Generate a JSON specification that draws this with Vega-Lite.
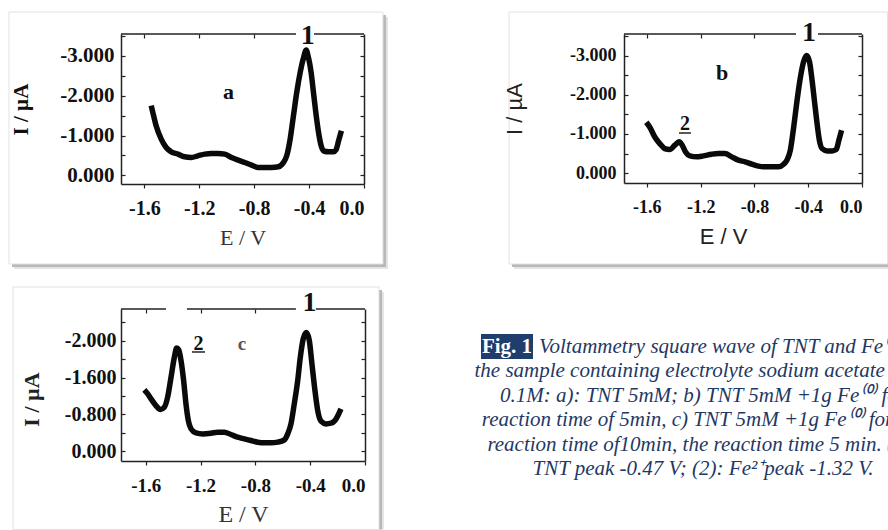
{
  "$schema": "https://vega.github.io/schema/vega-lite/v6.json",
  "background": "white",
  "padding": {"left": 8, "top": 11, "right": 0, "bottom": 0},
  "autosize": {"type": "pad"},
  "spacing": 17,
  "config": {
    "view": {"stroke": null},
    "axis": {"labelOverlap": false, "grid": false, "domainColor": "#222", "domainWidth": 1.5, "tickColor": "#222", "tickWidth": 1.2},
    "font": "Liberation Serif"
  },
  "vconcat": [
    {"hconcat": [
    {
      "width": 243, "height": 150,
      "resolve": {"axis": {"x": "independent", "y": "independent"}},
      "layer": [
        {"data": {"values": [{}]}, "mark": {"type": "rect", "fill": "#e3e3e3"},
         "encoding": {"x": {"datum": -2.549, "type": "quantitative", "scale": {"domain": [-1.77, 0], "nice": false, "zero": false}, "axis": null}, "x2": {"datum": 0.175},
                      "y": {"datum": -3.98, "type": "quantitative", "scale": {"domain": [-3.553, 0.219], "reverse": true, "nice": false, "zero": false}, "axis": null}, "y2": {"datum": 2.356}}},
        {"data": {"values": [{}]}, "mark": {"type": "rect", "fill": "#b8b8b8"},
         "encoding": {"x": {"datum": -2.564, "type": "quantitative", "scale": {"domain": [-1.77, 0], "nice": false, "zero": false}, "axis": null}, "x2": {"datum": 0.16},
                      "y": {"datum": -4.031, "type": "quantitative", "scale": {"domain": [-3.553, 0.219], "reverse": true, "nice": false, "zero": false}, "axis": null}, "y2": {"datum": 2.306}}},
        {"data": {"values": [{}]}, "mark": {"type": "rect", "fill": "#ffffff", "stroke": "#e2e2e2", "strokeWidth": 1},
         "encoding": {"x": {"datum": -2.586, "type": "quantitative", "scale": {"domain": [-1.77, 0], "nice": false, "zero": false}, "axis": null}, "x2": {"datum": 0.138},
                      "y": {"datum": -4.106, "type": "quantitative", "scale": {"domain": [-3.553, 0.219], "reverse": true, "nice": false, "zero": false}, "axis": null}, "y2": {"datum": 2.23}}},
        {"data": {"values": [{}]}, "mark": {"type": "rule", "color": "#222", "strokeWidth": 1.5},
         "encoding": {"x": {"datum": -1.77, "type": "quantitative", "scale": {"domain": [-1.77, 0], "nice": false, "zero": false},
                            "axis": {"orient": "top", "values": [-1.6, -1.2, -0.8], "labels": false, "domain": false, "tickSize": -4, "title": null, "zindex": 1}},
                      "x2": {"datum": -0.495},
                      "y": {"datum": -3.553, "type": "quantitative", "scale": {"domain": [-3.553, 0.219], "reverse": true, "nice": false, "zero": false},
                            "axis": {"orient": "right", "values": [0, -0.5, -1, -1.5, -2, -2.5, -3, -3.5], "labels": false, "tickSize": -4, "title": null, "zindex": 1}}}},
        {"data": {"values": [{}]}, "mark": {"type": "rule", "color": "#222", "strokeWidth": 1.5},
         "encoding": {"x": {"datum": -0.364, "type": "quantitative", "scale": {"domain": [-1.77, 0], "nice": false, "zero": false}, "axis": null}, "x2": {"datum": 0},
                      "y": {"datum": -3.553, "type": "quantitative", "scale": {"domain": [-3.553, 0.219], "reverse": true, "nice": false, "zero": false}, "axis": null}}},
        {"data": {"values": [
          {"E": -1.550, "I": -1.75}, {"E": -1.538, "I": -1.578}, {"E": -1.514, "I": -1.243}, {"E": -1.477, "I": -0.908}, {"E": -1.441, "I": -0.699},
          {"E": -1.404, "I": -0.590}, {"E": -1.355, "I": -0.532}, {"E": -1.307, "I": -0.465}, {"E": -1.258, "I": -0.448}, {"E": -1.209, "I": -0.490},
          {"E": -1.160, "I": -0.532}, {"E": -1.111, "I": -0.548}, {"E": -1.063, "I": -0.548}, {"E": -1.014, "I": -0.532}, {"E": -0.965, "I": -0.448},
          {"E": -0.916, "I": -0.381}, {"E": -0.868, "I": -0.322}, {"E": -0.819, "I": -0.255}, {"E": -0.770, "I": -0.197}, {"E": -0.721, "I": -0.197},
          {"E": -0.673, "I": -0.197}, {"E": -0.624, "I": -0.213}, {"E": -0.587, "I": -0.322}, {"E": -0.563, "I": -0.490}, {"E": -0.538, "I": -0.908},
          {"E": -0.514, "I": -1.495}, {"E": -0.490, "I": -2.081}, {"E": -0.465, "I": -2.583}, {"E": -0.441, "I": -2.95}, {"E": -0.421, "I": -3.15},
          {"E": -0.404, "I": -2.95}, {"E": -0.385, "I": -2.583}, {"E": -0.368, "I": -2.081}, {"E": -0.351, "I": -1.578}, {"E": -0.331, "I": -1.076},
          {"E": -0.312, "I": -0.741}, {"E": -0.295, "I": -0.615}, {"E": -0.258, "I": -0.590}, {"E": -0.222, "I": -0.590}, {"E": -0.204, "I": -0.640},
          {"E": -0.185, "I": -0.866}, {"E": -0.165, "I": -1.118}
        ]},
         "mark": {"type": "line", "color": "#0a0a0a", "strokeWidth": 5.5, "interpolate": "monotone"},
         "encoding": {
           "x": {"field": "E", "type": "quantitative", "scale": {"domain": [-1.77, 0], "nice": false, "zero": false},
                 "axis": {"orient": "bottom", "zindex": 1, "values": [-1.6, -1.2, -0.8, -0.4, 0], "labelExpr": "(datum.value < 0 ? '-' : '') + format(abs(datum.value), '.1f')",
                          "labelFlush": true, "labelFont": "Liberation Serif", "labelFontWeight": "bold", "labelFontSize": 20, "labelColor": "#111", "labelPadding": 10, "tickSize": 4,
                          "title": "E / V", "titleFont": "Liberation Serif", "titleFontWeight": "normal", "titleFontSize": 22, "titleColor": "#333", "titlePadding": 9}},
           "y": {"field": "I", "type": "quantitative", "scale": {"domain": [-3.553, 0.219], "reverse": true, "nice": false, "zero": false},
                 "axis": {"orient": "left", "zindex": 1, "values": [0, -0.5, -1, -1.5, -2, -2.5, -3, -3.5],
                          "labelExpr": "datum.value % 1 != 0 ? '' : (datum.value < 0 ? '-' : '') + format(abs(datum.value), '.3f')",
                          "labelFont": "Liberation Serif", "labelFontWeight": "bold", "labelFontSize": 21, "labelColor": "#111", "labelPadding": 11, "tickSize": -4,
                          "title": "I / µA", "titleFont": "Liberation Serif", "titleFontWeight": "bold", "titleFontSize": 21, "titleColor": "#111", "titlePadding": 28}}
         }},
        {"data": {"values": [{"t": "a"}]}, "mark": {"type": "text", "font": "Liberation Serif", "fontWeight": "bold", "fontSize": 22, "color": "#111", "align": "center", "baseline": "middle"},
         "encoding": {"x": {"datum": -0.987, "type": "quantitative", "scale": {"domain": [-1.77, 0], "nice": false, "zero": false}, "axis": null},
                      "y": {"datum": -2.082, "type": "quantitative", "scale": {"domain": [-3.553, 0.219], "reverse": true, "nice": false, "zero": false}, "axis": null},
                      "text": {"field": "t"}}},
        {"data": {"values": [{"t": "1"}]}, "mark": {"type": "text", "font": "Liberation Serif", "fontWeight": "bold", "fontSize": 28, "color": "#111", "align": "center", "baseline": "middle"},
         "encoding": {"x": {"datum": -0.41, "type": "quantitative", "scale": {"domain": [-1.77, 0], "nice": false, "zero": false}, "axis": null},
                      "y": {"datum": -3.515, "type": "quantitative", "scale": {"domain": [-3.553, 0.219], "reverse": true, "nice": false, "zero": false}, "axis": null},
                      "text": {"field": "t"}}}
      ]
    },
    {
      "width": 238, "height": 149,
      "resolve": {"axis": {"x": "independent", "y": "independent"}},
      "layer": [
        {"data": {"values": [{}]}, "mark": {"type": "rect", "fill": "#e3e3e3"},
         "encoding": {"x": {"datum": -2.588, "type": "quantitative", "scale": {"domain": [-1.77, 0], "nice": false, "zero": false}, "axis": null}, "x2": {"datum": 0.193},
                      "y": {"datum": -3.984, "type": "quantitative", "scale": {"domain": [-3.55, 0.25], "reverse": true, "nice": false, "zero": false}, "axis": null}, "y2": {"datum": 2.443}}},
        {"data": {"values": [{}]}, "mark": {"type": "rect", "fill": "#b8b8b8"},
         "encoding": {"x": {"datum": -2.603, "type": "quantitative", "scale": {"domain": [-1.77, 0], "nice": false, "zero": false}, "axis": null}, "x2": {"datum": 0.193},
                      "y": {"datum": -4.035, "type": "quantitative", "scale": {"domain": [-3.55, 0.25], "reverse": true, "nice": false, "zero": false}, "axis": null}, "y2": {"datum": 2.392}}},
        {"data": {"values": [{}]}, "mark": {"type": "rect", "fill": "#ffffff", "stroke": "#e2e2e2", "strokeWidth": 1},
         "encoding": {"x": {"datum": -2.625, "type": "quantitative", "scale": {"domain": [-1.77, 0], "nice": false, "zero": false}, "axis": null}, "x2": {"datum": 0.19},
                      "y": {"datum": -4.111, "type": "quantitative", "scale": {"domain": [-3.55, 0.25], "reverse": true, "nice": false, "zero": false}, "axis": null}, "y2": {"datum": 2.316}}},
        {"data": {"values": [{}]}, "mark": {"type": "rule", "color": "#222", "strokeWidth": 1.5},
         "encoding": {"x": {"datum": -1.77, "type": "quantitative", "scale": {"domain": [-1.77, 0], "nice": false, "zero": false},
                            "axis": {"orient": "top", "values": [-1.6, -1.2, -0.8], "labels": false, "domain": false, "tickSize": -4, "title": null, "zindex": 1}},
                      "x2": {"datum": -0.491},
                      "y": {"datum": -3.55, "type": "quantitative", "scale": {"domain": [-3.55, 0.25], "reverse": true, "nice": false, "zero": false},
                            "axis": {"orient": "right", "values": [0, -0.5, -1, -1.5, -2, -2.5, -3, -3.5], "labels": false, "tickSize": -4, "title": null, "zindex": 1}}}},
        {"data": {"values": [{}]}, "mark": {"type": "rule", "color": "#222", "strokeWidth": 1.5},
         "encoding": {"x": {"datum": -0.327, "type": "quantitative", "scale": {"domain": [-1.77, 0], "nice": false, "zero": false}, "axis": null}, "x2": {"datum": 0},
                      "y": {"datum": -3.55, "type": "quantitative", "scale": {"domain": [-3.55, 0.25], "reverse": true, "nice": false, "zero": false}, "axis": null}}},
        {"data": {"values": [
          {"E": -1.604, "I": -1.30}, {"E": -1.579, "I": -1.178}, {"E": -1.541, "I": -0.924}, {"E": -1.504, "I": -0.755}, {"E": -1.467, "I": -0.628},
          {"E": -1.429, "I": -0.603}, {"E": -1.392, "I": -0.713}, {"E": -1.360, "I": -0.80}, {"E": -1.337, "I": -0.713}, {"E": -1.312, "I": -0.543},
          {"E": -1.280, "I": -0.442}, {"E": -1.230, "I": -0.417}, {"E": -1.180, "I": -0.442}, {"E": -1.118, "I": -0.484}, {"E": -1.068, "I": -0.501},
          {"E": -1.019, "I": -0.501}, {"E": -0.969, "I": -0.417}, {"E": -0.919, "I": -0.332}, {"E": -0.869, "I": -0.290}, {"E": -0.819, "I": -0.230},
          {"E": -0.770, "I": -0.180}, {"E": -0.720, "I": -0.163}, {"E": -0.670, "I": -0.163}, {"E": -0.620, "I": -0.163}, {"E": -0.583, "I": -0.230},
          {"E": -0.558, "I": -0.332}, {"E": -0.533, "I": -0.586}, {"E": -0.508, "I": -1.178}, {"E": -0.483, "I": -1.855}, {"E": -0.458, "I": -2.447},
          {"E": -0.434, "I": -2.85}, {"E": -0.412, "I": -3.0}, {"E": -0.391, "I": -2.85}, {"E": -0.371, "I": -2.362}, {"E": -0.354, "I": -1.855},
          {"E": -0.334, "I": -1.263}, {"E": -0.317, "I": -0.840}, {"E": -0.297, "I": -0.628}, {"E": -0.259, "I": -0.569}, {"E": -0.222, "I": -0.569},
          {"E": -0.192, "I": -0.603}, {"E": -0.172, "I": -0.840}, {"E": -0.152, "I": -1.093}
        ]},
         "mark": {"type": "line", "color": "#0a0a0a", "strokeWidth": 5.5, "interpolate": "monotone"},
         "encoding": {
           "x": {"field": "E", "type": "quantitative", "scale": {"domain": [-1.77, 0], "nice": false, "zero": false},
                 "axis": {"orient": "bottom", "zindex": 1, "values": [-1.6, -1.2, -0.8, -0.4, 0], "labelExpr": "(datum.value < 0 ? '-' : '') + format(abs(datum.value), '.1f')",
                          "labelFlush": true, "labelFont": "Liberation Serif", "labelFontWeight": "bold", "labelFontSize": 18, "labelColor": "#111", "labelPadding": 11, "tickSize": 4,
                          "title": "E / V", "titleFont": "Liberation Sans", "titleFontWeight": "normal", "titleFontSize": 22, "titleColor": "#222", "titlePadding": 10, "titleX": 99}},
           "y": {"field": "I", "type": "quantitative", "scale": {"domain": [-3.55, 0.25], "reverse": true, "nice": false, "zero": false},
                 "axis": {"orient": "left", "zindex": 1, "values": [0, -0.5, -1, -1.5, -2, -2.5, -3, -3.5],
                          "labelExpr": "datum.value % 1 != 0 ? '' : (datum.value < 0 ? '-' : '') + format(abs(datum.value), '.3f')",
                          "labelFont": "Liberation Serif", "labelFontWeight": "bold", "labelFontSize": 18, "labelColor": "#111", "labelPadding": 12, "tickSize": -4,
                          "title": "I / µA", "titleFont": "Liberation Sans", "titleFontWeight": "normal", "titleFontSize": 22, "titleColor": "#222", "titlePadding": 43}}
         }},
        {"data": {"values": [{"t": "b"}]}, "mark": {"type": "text", "font": "Liberation Serif", "fontWeight": "bold", "fontSize": 22, "color": "#111", "align": "center", "baseline": "middle"},
         "encoding": {"x": {"datum": -1.041, "type": "quantitative", "scale": {"domain": [-1.77, 0], "nice": false, "zero": false}, "axis": null},
                      "y": {"datum": -2.555, "type": "quantitative", "scale": {"domain": [-3.55, 0.25], "reverse": true, "nice": false, "zero": false}, "axis": null},
                      "text": {"field": "t"}}},
        {"data": {"values": [{"t": "2"}]}, "mark": {"type": "text", "font": "Liberation Serif", "fontWeight": "bold", "fontSize": 20, "color": "#111", "align": "center", "baseline": "middle"},
         "encoding": {"x": {"datum": -1.316, "type": "quantitative", "scale": {"domain": [-1.77, 0], "nice": false, "zero": false}, "axis": null},
                      "y": {"datum": -1.242, "type": "quantitative", "scale": {"domain": [-3.55, 0.25], "reverse": true, "nice": false, "zero": false}, "axis": null},
                      "text": {"field": "t"}}},
        {"data": {"values": [{}]}, "mark": {"type": "rule", "color": "#222", "strokeWidth": 1.5},
         "encoding": {"x": {"datum": -1.361, "type": "quantitative", "scale": {"domain": [-1.77, 0], "nice": false, "zero": false}, "axis": null}, "x2": {"datum": -1.272},
                      "y": {"datum": -1.025, "type": "quantitative", "scale": {"domain": [-3.55, 0.25], "reverse": true, "nice": false, "zero": false}, "axis": null}}},
        {"data": {"values": [{"t": "1"}]}, "mark": {"type": "text", "font": "Liberation Serif", "fontWeight": "bold", "fontSize": 28, "color": "#111", "align": "center", "baseline": "middle"},
         "encoding": {"x": {"datum": -0.394, "type": "quantitative", "scale": {"domain": [-1.77, 0], "nice": false, "zero": false}, "axis": null},
                      "y": {"datum": -3.588, "type": "quantitative", "scale": {"domain": [-3.55, 0.25], "reverse": true, "nice": false, "zero": false}, "axis": null},
                      "text": {"field": "t"}}}
      ]
    }
    ], "spacing": 260, "bounds": "flush"},
    {"hconcat": [
    {
      "width": 244, "height": 152,
      "resolve": {"axis": {"x": "independent", "y": "independent"}},
      "layer": [
        {"data": {"values": [{}]}, "mark": {"type": "rect", "fill": "#e3e3e3"},
         "encoding": {"x": {"datum": -2.531, "type": "quantitative", "scale": {"domain": [-1.78, 0], "nice": false, "zero": false}, "axis": null}, "x2": {"datum": 0.138},
                      "y": {"datum": -3.459, "type": "quantitative", "scale": {"domain": [-3.09, 0.213], "reverse": true, "nice": false, "zero": false}, "axis": null}, "y2": {"datum": 1.7}}},
        {"data": {"values": [{}]}, "mark": {"type": "rect", "fill": "#b8b8b8"},
         "encoding": {"x": {"datum": -2.546, "type": "quantitative", "scale": {"domain": [-1.78, 0], "nice": false, "zero": false}, "axis": null}, "x2": {"datum": 0.124},
                      "y": {"datum": -3.503, "type": "quantitative", "scale": {"domain": [-3.09, 0.213], "reverse": true, "nice": false, "zero": false}, "axis": null}, "y2": {"datum": 1.7}}},
        {"data": {"values": [{}]}, "mark": {"type": "rect", "fill": "#ffffff", "stroke": "#ffffff", "strokeWidth": 1},
         "encoding": {"x": {"datum": -2.597, "type": "quantitative", "scale": {"domain": [-1.78, 0], "nice": false, "zero": false}, "axis": null}, "x2": {"datum": -2.57},
                      "y": {"datum": -3.4, "type": "quantitative", "scale": {"domain": [-3.09, 0.213], "reverse": true, "nice": false, "zero": false}, "axis": null}, "y2": {"datum": 1.6}}},
        {"data": {"values": [{}]}, "mark": {"type": "rect", "fill": "#ffffff", "stroke": "#e2e2e2", "strokeWidth": 1},
         "encoding": {"x": {"datum": -2.568, "type": "quantitative", "scale": {"domain": [-1.78, 0], "nice": false, "zero": false}, "axis": null}, "x2": {"datum": 0.102},
                      "y": {"datum": -3.568, "type": "quantitative", "scale": {"domain": [-3.09, 0.213], "reverse": true, "nice": false, "zero": false}, "axis": null}, "y2": {"datum": 1.7}}},
        {"data": {"values": [{}]}, "mark": {"type": "rule", "color": "#222", "strokeWidth": 1.5},
         "encoding": {"x": {"datum": -1.78, "type": "quantitative", "scale": {"domain": [-1.78, 0], "nice": false, "zero": false},
                            "axis": {"orient": "top", "values": [-1.6, -1.2, -0.8], "labels": false, "domain": false, "tickSize": -4, "title": null, "zindex": 1}},
                      "x2": {"datum": -1.452},
                      "y": {"datum": -3.09, "type": "quantitative", "scale": {"domain": [-3.09, 0.213], "reverse": true, "nice": false, "zero": false},
                            "axis": {"orient": "right", "values": [0, -0.4, -0.8, -1.2, -1.6, -2, -2.4, -2.8], "labels": false, "tickSize": -4, "title": null, "zindex": 1}}}},
        {"data": {"values": [{}]}, "mark": {"type": "rule", "color": "#222", "strokeWidth": 1.5},
         "encoding": {"x": {"datum": -1.299, "type": "quantitative", "scale": {"domain": [-1.78, 0], "nice": false, "zero": false}, "axis": null}, "x2": {"datum": -0.504},
                      "y": {"datum": -3.09, "type": "quantitative", "scale": {"domain": [-3.09, 0.213], "reverse": true, "nice": false, "zero": false}, "axis": null}}},
        {"data": {"values": [{}]}, "mark": {"type": "rule", "color": "#222", "strokeWidth": 1.5},
         "encoding": {"x": {"datum": -0.358, "type": "quantitative", "scale": {"domain": [-1.78, 0], "nice": false, "zero": false}, "axis": null}, "x2": {"datum": 0},
                      "y": {"datum": -3.09, "type": "quantitative", "scale": {"domain": [-3.09, 0.213], "reverse": true, "nice": false, "zero": false}, "axis": null}}},
        {"data": {"values": [
          {"E": -1.610, "I": -1.331}, {"E": -1.585, "I": -1.244}, {"E": -1.561, "I": -1.136}, {"E": -1.525, "I": -0.991}, {"E": -1.493, "I": -0.904},
          {"E": -1.464, "I": -0.955}, {"E": -1.440, "I": -1.172}, {"E": -1.415, "I": -1.606}, {"E": -1.391, "I": -2.039}, {"E": -1.374, "I": -2.24},
          {"E": -1.359, "I": -2.20}, {"E": -1.342, "I": -1.967}, {"E": -1.323, "I": -1.533}, {"E": -1.306, "I": -1.027}, {"E": -1.289, "I": -0.666},
          {"E": -1.269, "I": -0.485}, {"E": -1.233, "I": -0.398}, {"E": -1.184, "I": -0.376}, {"E": -1.123, "I": -0.391}, {"E": -1.075, "I": -0.413},
          {"E": -1.026, "I": -0.413}, {"E": -0.978, "I": -0.362}, {"E": -0.929, "I": -0.304}, {"E": -0.880, "I": -0.268}, {"E": -0.832, "I": -0.232},
          {"E": -0.783, "I": -0.196}, {"E": -0.734, "I": -0.181}, {"E": -0.686, "I": -0.181}, {"E": -0.637, "I": -0.196}, {"E": -0.588, "I": -0.246},
          {"E": -0.564, "I": -0.376}, {"E": -0.540, "I": -0.593}, {"E": -0.516, "I": -1.027}, {"E": -0.491, "I": -1.533}, {"E": -0.472, "I": -2.039},
          {"E": -0.450, "I": -2.45}, {"E": -0.427, "I": -2.58}, {"E": -0.406, "I": -2.401}, {"E": -0.387, "I": -1.895}, {"E": -0.365, "I": -1.316},
          {"E": -0.345, "I": -0.883}, {"E": -0.321, "I": -0.651}, {"E": -0.285, "I": -0.593}, {"E": -0.248, "I": -0.608}, {"E": -0.219, "I": -0.666},
          {"E": -0.192, "I": -0.810}, {"E": -0.175, "I": -0.919}
        ]},
         "mark": {"type": "line", "color": "#0a0a0a", "strokeWidth": 5.5, "interpolate": "monotone"},
         "encoding": {
           "x": {"field": "E", "type": "quantitative", "scale": {"domain": [-1.78, 0], "nice": false, "zero": false},
                 "axis": {"orient": "bottom", "zindex": 1, "values": [-1.6, -1.2, -0.8, -0.4, 0], "labelExpr": "(datum.value < 0 ? '-' : '') + format(abs(datum.value), '.1f')",
                          "labelFlush": true, "labelFont": "Liberation Serif", "labelFontWeight": "bold", "labelFontSize": 19, "labelColor": "#111", "labelPadding": 11, "tickSize": 4,
                          "title": "E / V", "titleFont": "Liberation Serif", "titleFontWeight": "normal", "titleFontSize": 24, "titleColor": "#333", "titlePadding": 7}},
           "y": {"field": "I", "type": "quantitative", "scale": {"domain": [-3.09, 0.213], "reverse": true, "nice": false, "zero": false},
                 "axis": {"orient": "left", "zindex": 1, "values": [0, -0.4, -0.8, -1.2, -1.6, -2, -2.4, -2.8],
                          "labelExpr": "datum.value == -2.4 ? '-2.000' : datum.value == -1.6 ? '-1.600' : datum.value == -0.8 ? '-0.800' : datum.value == 0 ? '0.000' : ''",
                          "labelFont": "Liberation Serif", "labelFontWeight": "bold", "labelFontSize": 20, "labelColor": "#111", "labelPadding": 9, "tickSize": -4,
                          "title": "I / µA", "titleFont": "Liberation Serif", "titleFontWeight": "bold", "titleFontSize": 22, "titleColor": "#222", "titlePadding": 21, "titleY": 90}}
         }},
        {"data": {"values": [{"t": "2"}]}, "mark": {"type": "text", "font": "Liberation Serif", "fontWeight": "bold", "fontSize": 20, "color": "#111", "align": "center", "baseline": "middle"},
         "encoding": {"x": {"datum": -1.215, "type": "quantitative", "scale": {"domain": [-1.78, 0], "nice": false, "zero": false}, "axis": null},
                      "y": {"datum": -2.34, "type": "quantitative", "scale": {"domain": [-3.09, 0.213], "reverse": true, "nice": false, "zero": false}, "axis": null},
                      "text": {"field": "t"}}},
        {"data": {"values": [{}]}, "mark": {"type": "rule", "color": "#222", "strokeWidth": 1.5},
         "encoding": {"x": {"datum": -1.262, "type": "quantitative", "scale": {"domain": [-1.78, 0], "nice": false, "zero": false}, "axis": null}, "x2": {"datum": -1.167},
                      "y": {"datum": -2.156, "type": "quantitative", "scale": {"domain": [-3.09, 0.213], "reverse": true, "nice": false, "zero": false}, "axis": null}}},
        {"data": {"values": [{"t": "c"}]}, "mark": {"type": "text", "font": "Liberation Serif", "fontWeight": "bold", "fontSize": 19, "color": "#555", "align": "center", "baseline": "middle"},
         "encoding": {"x": {"datum": -0.897, "type": "quantitative", "scale": {"domain": [-1.78, 0], "nice": false, "zero": false}, "axis": null},
                      "y": {"datum": -2.329, "type": "quantitative", "scale": {"domain": [-3.09, 0.213], "reverse": true, "nice": false, "zero": false}, "axis": null},
                      "text": {"field": "t"}}},
        {"data": {"values": [{"t": "1"}]}, "mark": {"type": "text", "font": "Liberation Serif", "fontWeight": "bold", "fontSize": 28, "color": "#111", "align": "center", "baseline": "middle"},
         "encoding": {"x": {"datum": -0.405, "type": "quantitative", "scale": {"domain": [-1.78, 0], "nice": false, "zero": false}, "axis": null},
                      "y": {"datum": -3.22, "type": "quantitative", "scale": {"domain": [-3.09, 0.213], "reverse": true, "nice": false, "zero": false}, "axis": null},
                      "text": {"field": "t"}}}
      ]
    },
    {
      "width": 447, "height": 180,
      "layer": [
        {"data": {"values": [{}]}, "mark": {"type": "rect", "fill": "#1f3d6d"},
         "encoding": {"x": {"datum": 0.0895, "type": "quantitative", "scale": {"domain": [0, 1], "nice": false, "zero": false}, "axis": null}, "x2": {"datum": 0.2058},
                      "y": {"datum": 0.467, "type": "quantitative", "scale": {"domain": [-0.557, 6.82], "reverse": true, "nice": false, "zero": false}, "axis": null}, "y2": {"datum": 1.492}}},
        {"data": {"values": [{"line": 1, "t": "Fig. 1"}]},
         "mark": {"type": "text", "font": "Liberation Serif", "fontWeight": "bold", "fontSize": 21, "color": "#ffffff", "align": "center", "baseline": "middle"},
         "encoding": {"x": {"datum": 0.1477, "type": "quantitative", "scale": {"domain": [0, 1], "nice": false, "zero": false}, "axis": null},
                      "y": {"field": "line", "type": "quantitative", "scale": {"domain": [-0.557, 6.82], "reverse": true, "nice": false, "zero": false}, "axis": null},
                      "text": {"field": "t"}}},
        {"data": {"values": [{"line": 1, "t": "Voltammetry square wave of TNT and Fe⁽⁰⁾ in"}]},
         "mark": {"type": "text", "font": "Liberation Serif", "fontStyle": "italic", "fontSize": 21, "color": "#1f3864", "align": "left", "baseline": "middle", "clip": true},
         "encoding": {"x": {"datum": 0.2192, "type": "quantitative", "scale": {"domain": [0, 1], "nice": false, "zero": false}, "axis": null},
                      "y": {"field": "line", "type": "quantitative", "scale": {"domain": [-0.557, 6.82], "reverse": true, "nice": false, "zero": false}, "axis": null},
                      "text": {"field": "t"}}},
        {"data": {"values": [
          {"line": 2, "t": "the sample containing electrolyte sodium acetate pH 5"},
          {"line": 3, "t": "0.1M: a): TNT 5mM; b) TNT 5mM +1g Fe⁽⁰⁾ for"},
          {"line": 4, "t": "reaction time of 5min, c) TNT 5mM +1g Fe⁽⁰⁾ for the"},
          {"line": 5, "t": "reaction time of10min, the reaction time 5 min. (1):"},
          {"line": 6, "t": "TNT peak -0.47 V; (2): Fe²⁺peak -1.32 V."}
        ]},
         "mark": {"type": "text", "font": "Liberation Serif", "fontStyle": "italic", "fontSize": 21, "color": "#1f3864", "align": "center", "baseline": "middle", "clip": true},
         "encoding": {"x": {"datum": 0.5861, "type": "quantitative", "scale": {"domain": [0, 1], "nice": false, "zero": false}, "axis": null},
                      "y": {"field": "line", "type": "quantitative", "scale": {"domain": [-0.557, 6.82], "reverse": true, "nice": false, "zero": false}, "axis": null},
                      "text": {"field": "t"}}}
      ]
    }
    ], "spacing": 76, "bounds": "flush"}
  ]
}
